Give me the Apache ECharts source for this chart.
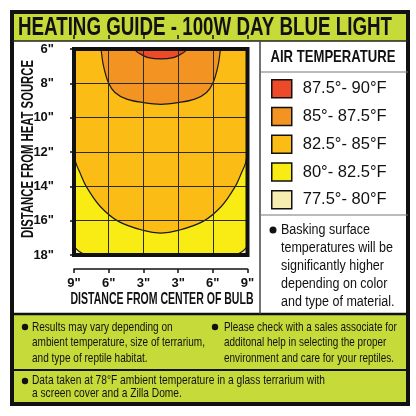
<!DOCTYPE html>
<html><head><meta charset="utf-8">
<script src="https://cdn.jsdelivr.net/npm/echarts@6/dist/echarts.min.js"></script>
<style>html,body{margin:0;padding:0;background:#fff}#c{width:416px;height:416px}</style>
</head><body><div id="c"></div>
<script>
// ---- data ----
const xTickLabels = ['9"', '6"', '3"', '3"', '6"', '9"'];
const yTickLabels = ['6"', '8"', '10"', '12"', '14"', '16"', '18"'];
const legendNames = ['87.5°- 90°F', '85°- 87.5°F', '82.5°- 85°F', '80°- 82.5°F', '77.5°- 80°F'];
const legendColors = ['#ec4a28', '#f39322', '#fbbd15', '#f8ec14', '#f6eeb0'];
// contour boundaries: x in grid columns (0..5), y in inches from heat source
const redEdge = [[1.76,6.0],[1.79,6.12],[1.91,6.29],[2.14,6.5],[2.5,6.58],[2.86,6.5],[3.09,6.29],[3.21,6.12],[3.24,6.0]];
const orangeEdge = [[0.78,6.0],[0.85,6.98],[0.99,7.95],[1.18,8.53],[1.52,8.92],[2.0,9.12],[2.5,9.22],[3.0,9.12],[3.48,8.92],[3.82,8.53],[4.01,7.95],[4.15,6.98],[4.22,6.0]];
const amberEdge = [[0,11.95],[0.05,12.6],[0.17,13.2],[0.35,14.0],[0.75,15.16],[1.28,16.04],[2.0,16.57],[2.5,16.72],[3.0,16.57],[3.72,16.04],[4.25,15.16],[4.65,14.0],[4.83,13.2],[4.95,12.6],[5,11.95]];
const yellowFloor = [[0,18],[5,18]];
const paleLeft = [[0,17.5],[0.14,17.78],[0.34,18]];
const paleRight = [[4.66,18],[4.86,17.78],[5,17.5]];

const titleText = 'HEATING GUIDE - 100W DAY BLUE LIGHT';
const legendTitle = 'AIR TEMPERATURE';
const noteLines = ['Basking surface', 'temperatures will be', 'significantly higher', 'depending on color', 'and type of material.'];
const foot1 = ['Results may vary depending on', 'ambient temperature, size of terrarium,', 'and type of reptile habitat.'];
const foot2 = ['Please check with a sales associate for', 'additonal help in selecting the proper', 'environment and care for your reptiles.'];
const foot3 = ['Data taken at 78°F ambient temperature in a glass terrarium with', 'a screen cover and a Zilla Dome.'];
const xTitle = 'DISTANCE FROM CENTER OF BULB';
const yTitle = 'DISTANCE FROM HEAT SOURCE';

// ---- chart ----
const SANS = "'Liberation Sans', Arial, sans-serif";
const GREEN = '#c6db3a';
const mctx = document.createElement('canvas').getContext('2d');
function fitScale(text, font, target) { mctx.font = font; return target / mctx.measureText(text).width; }

const chart = echarts.init(document.getElementById('c'), null, {renderer: 'canvas'});

function area(name, data, color, origin) {
  return {
    type: 'line', name, data, symbol: 'none', smooth: 0.35, clip: true, z: 1,
    lineStyle: {color: '#1a1a1a', width: data === yellowFloor ? 0 : 1.2},
    areaStyle: {color, opacity: 1, origin},
    itemStyle: {color},
    silent: true, animation: false
  };
}

const baseY = {type: 'value', min: 6, max: 18, interval: 2, inverse: true, offset: 14, z: 5};
const baseX = {type: 'value', min: 0, max: 5, interval: 1, offset: 14, z: 5};

function textEl(lines, cfg) {
  const font = cfg.font;
  const scale = fitScale(cfg.measure || lines[0], font, cfg.width);
  return {type: 'text', z: 60, x: cfg.x, y: cfg.y, rotation: cfg.rotation || 0, scaleX: scale,
    style: {text: lines.join('\n'), font, lineHeight: cfg.lineHeight, fill: '#111', align: cfg.align || 'left', verticalAlign: cfg.valign || 'top'}};
}

const option = {
  animation: false,
  grid: {left: 74, top: 49, width: 173.5, height: 206, show: false},
  xAxis: [
    Object.assign({}, baseX, {
      axisLine: {show: true, lineStyle: {color: '#111', width: 1.5}},
      axisTick: {show: true, length: 4, lineStyle: {color: '#111', width: 1.5}},
      axisLabel: {margin: 8, fontFamily: SANS, fontWeight: 'bold', fontSize: 13, color: '#111',
        formatter: v => xTickLabels[v]},
      splitLine: {show: true, lineStyle: {color: '#2a2a2a', width: 1}}
    }),
    Object.assign({}, baseX, {
      axisLine: {show: false},
      axisTick: {show: true, inside: true, length: 4, lineStyle: {color: '#111', width: 1.5}},
      axisLabel: {show: false}, splitLine: {show: false}
    })
  ],
  yAxis: [
    Object.assign({}, baseY, {
      axisLine: {show: true, lineStyle: {color: '#111', width: 1.5}},
      axisTick: {show: true, length: 4, lineStyle: {color: '#111', width: 1.5}},
      axisLabel: {margin: 6, fontFamily: SANS, fontWeight: 'bold', fontSize: 13, color: '#111',
        formatter: v => yTickLabels[(v - 6) / 2]},
      splitLine: {show: true, lineStyle: {color: '#2a2a2a', width: 1}}
    }),
    Object.assign({}, baseY, {
      axisLine: {show: false},
      axisTick: {show: true, inside: true, length: 4, lineStyle: {color: '#111', width: 1.5}},
      axisLabel: {show: false}, splitLine: {show: false}
    })
  ],
  legend: {
    orient: 'vertical', left: 266, top: 74, itemWidth: 20, itemHeight: 18, itemGap: 8.25,
    icon: 'rect', selectedMode: false,
    data: legendNames.map((n, i) => ({name: n, itemStyle: {color: legendColors[i], borderColor: '#111', borderWidth: 1.5}})),
    textStyle: {fontSize: 16.5, lineHeight: 18, fontFamily: SANS, color: '#111', padding: [0, 0, 0, 6]}
  },
  series: [
    area(legendNames[3], yellowFloor, legendColors[3], 'start'),
    area(legendNames[4], paleLeft, legendColors[4], 'end'),
    area(legendNames[4], paleRight, legendColors[4], 'end'),
    area(legendNames[2], amberEdge, legendColors[2], 'start'),
    area(legendNames[1], orangeEdge, legendColors[1], 'start'),
    area(legendNames[0], redEdge, legendColors[0], 'start')
  ],
  graphic: [
    {type: 'rect', z: -10, shape: {x: 12, y: 12, width: 396, height: 29}, style: {fill: GREEN}},
    {type: 'rect', z: -10, shape: {x: 12, y: 314, width: 396, height: 91}, style: {fill: GREEN}},
    {type: 'rect', z: 50, shape: {x: 12, y: 12, width: 396, height: 392}, style: {fill: 'none', stroke: '#111', lineWidth: 4}},
    {type: 'line', z: 50, shape: {x1: 12, y1: 41, x2: 408, y2: 41}, style: {stroke: '#222', lineWidth: 1.5}},
    {type: 'line', z: 50, shape: {x1: 12, y1: 314, x2: 408, y2: 314}, style: {stroke: '#111', lineWidth: 2.5}},
    {type: 'line', z: 50, shape: {x1: 12, y1: 370, x2: 408, y2: 370}, style: {stroke: '#111', lineWidth: 2}},
    {type: 'line', z: 50, shape: {x1: 260, y1: 41, x2: 260, y2: 314}, style: {stroke: '#444', lineWidth: 1.5}},
    {type: 'line', z: 50, shape: {x1: 260, y1: 72, x2: 408, y2: 72}, style: {stroke: '#777', lineWidth: 1}},
    {type: 'line', z: 50, shape: {x1: 260, y1: 215, x2: 408, y2: 215}, style: {stroke: '#777', lineWidth: 1}},
    {type: 'rect', z: 60, shape: {x: 74, y: 49, width: 173.5, height: 206}, style: {fill: 'none', stroke: '#111', lineWidth: 4}},
    textEl([titleText], {x: 205, y: 28, font: 'bold 25px ' + SANS, width: 374, align: 'center', valign: 'middle'}),
    textEl([xTitle], {x: 162, y: 299, font: 'bold 16.5px ' + SANS, width: 183, align: 'center', valign: 'middle'}),
    textEl([yTitle], {x: 28, y: 149, rotation: Math.PI / 2, font: 'bold 16.5px ' + SANS, width: 178, align: 'center', valign: 'middle'}),
    textEl([legendTitle], {x: 333, y: 57, font: 'bold 16.5px ' + SANS, width: 125, align: 'center', valign: 'middle'}),
    {type: 'circle', z: 60, shape: {cx: 273, cy: 230, r: 3.5}, style: {fill: '#111'}},
    textEl(noteLines, {x: 281, y: 221, font: '15.5px ' + SANS, lineHeight: 18, width: 112, measure: noteLines[1]}),
    {type: 'circle', z: 60, shape: {cx: 25, cy: 327, r: 3.2}, style: {fill: '#111'}},
    textEl(foot1, {x: 32, y: 319.5, font: '13px ' + SANS, lineHeight: 15.5, width: 173, measure: foot1[1]}),
    {type: 'circle', z: 60, shape: {cx: 215, cy: 327, r: 3.2}, style: {fill: '#111'}},
    textEl(foot2, {x: 224, y: 319.5, font: '13px ' + SANS, lineHeight: 15.5, width: 170, measure: foot2[2]}),
    {type: 'circle', z: 60, shape: {cx: 25, cy: 381, r: 3.2}, style: {fill: '#111'}},
    textEl(foot3, {x: 32, y: 374, font: '13px ' + SANS, lineHeight: 13, width: 293, measure: foot3[0]})
  ]
};
chart.setOption(option);
</script>
</body></html>
